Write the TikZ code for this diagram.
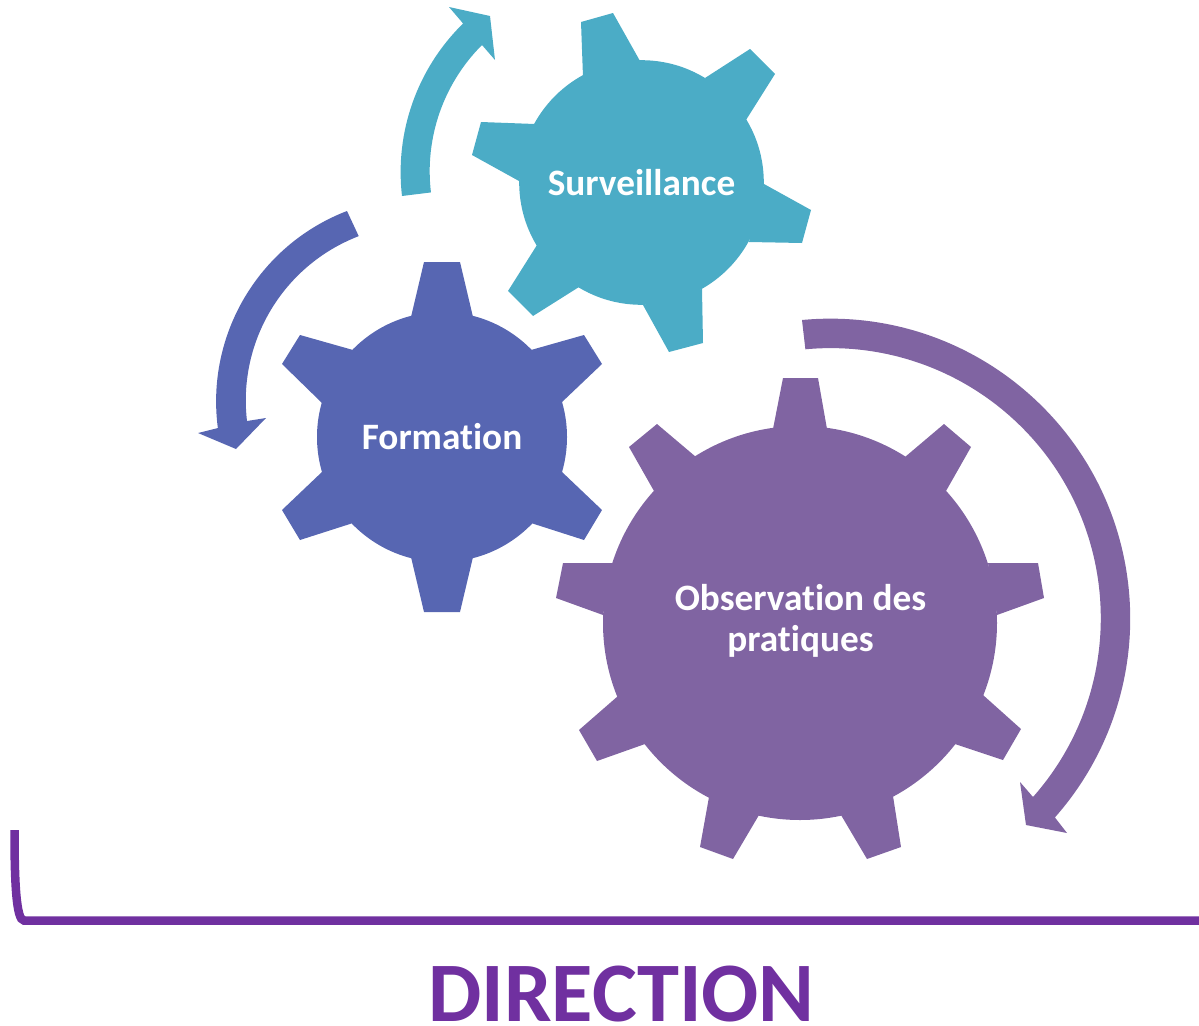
\documentclass[tikz,border=0pt]{standalone}
\usepackage{fontspec}
\setmainfont{Carlito}[Ligatures=NoCommon]
\definecolor{teal1}{HTML}{4BACC6}
\definecolor{blue1}{HTML}{5766B2}
\definecolor{purp1}{HTML}{8064A2}
\definecolor{dirp}{HTML}{7030A0}
\tikzset{
  gearlabel/.style={text=white,font=\bfseries\fontsize{37.4}{41}\selectfont,align=center,inner sep=0pt},
}
\begin{document}
\begin{tikzpicture}[x=1bp,y=-1bp]
\useasboundingbox (0,0) rectangle (1199,1026);
% Surveillance gear
\fill[teal1] (641.5,182.5) circle[radius=122.3bp];
\fill[teal1]
 (581,22)--(613,13)--(640,61)--(583,77)--cycle
 (705,78)--(750,49)--(775,74)--(746,120)--cycle
 (764,184)--(811,210)--(802,243)--(749,242)--cycle
 (702,289)--(703,343)--(669,352)--(643,305)--cycle
 (579,287)--(533,316)--(508,291)--(537,245)--cycle
 (519,181)--(472,155)--(481,122)--(535,124)--cycle;
% Formation gear
\fill[blue1] (442,437) circle[radius=125bp];
\fill[blue1]
 (424,262)--(460,262)--(473,317)--(411,317)--cycle
 (584,335)--(602,364)--(561,403)--(531,350)--cycle
 (602,510)--(584,540)--(531,523)--(561,471)--cycle
 (460,612)--(424,612)--(411,557)--(473,557)--cycle
 (300,540)--(282,510)--(323,471)--(353,523)--cycle
 (282,364)--(300,335)--(353,350)--(322,403)--cycle;
% Observation gear
\fill[purp1] (800,623) circle[radius=197bp];
\fill[purp1]
 (783,378)--(818,378)--(827,429)--(773,429)--cycle
 (905,457)--(944,424)--(971,447)--(946,491)--cycle
 (988,563)--(1038,563)--(1044,598)--(997,615)--cycle
 (983,695)--(1021,729)--(1003,760)--(955,744)--cycle
 (893,796)--(901,847)--(867,859)--(841,815)--cycle
 (759,815)--(733,859)--(700,847)--(709,797)--cycle
 (645,744)--(597,761)--(579,730)--(618,696)--cycle
 (603,615)--(556,598)--(563,563)--(613,563)--cycle
 (654,491)--(629,447)--(657,424)--(696,457)--cycle;
% Circular arrows (radii in bp are not flipped, so angles are y-up)
\fill[purp1] (802,320) arc[start angle=95.4,end angle=-41.5,radius=300bp]
  -- (1067,833) -- (1026,825) -- (1020,782) -- (1033,797)
  arc[start angle=-41.5,end angle=95.4,radius=270bp] -- cycle;
\fill[blue1] (347,211) arc[start angle=111,end angle=187.5,radius=204bp]
  -- (198,433) -- (236,449) -- (266,418) -- (247,421)
  arc[start angle=186.7,end angle=111,radius=176bp] -- cycle;
\fill[teal1] (402,196) arc[start angle=186.6,end angle=134.4,radius=208bp]
  -- (449,7) -- (490,16) -- (495,60) -- (482,45)
  arc[start angle=135,end angle=186.8,radius=178.6bp] -- cycle;
% Labels
\node[gearlabel] (surv) at (641.5,182.5) {Surveillance};
\node[gearlabel] (form) at (442,436.5) {Formation};
\node[gearlabel] (obs) at (800.5,620.5) {Observation des\\pratiques};
% Bracket
\coordinate (b0) at (14.5,830);
\coordinate (b1) at (1199,920.5);
\draw[dirp,line width=8.5bp] (b0) .. controls (14.5,880) and (16,920.5) .. (24,920.5) -- (b1);
\node[text=dirp,font=\bfseries\fontsize{85}{85}\selectfont,inner sep=0pt] (dir) at (621.5,994) {DIRECTION};
\end{tikzpicture}
\end{document}
